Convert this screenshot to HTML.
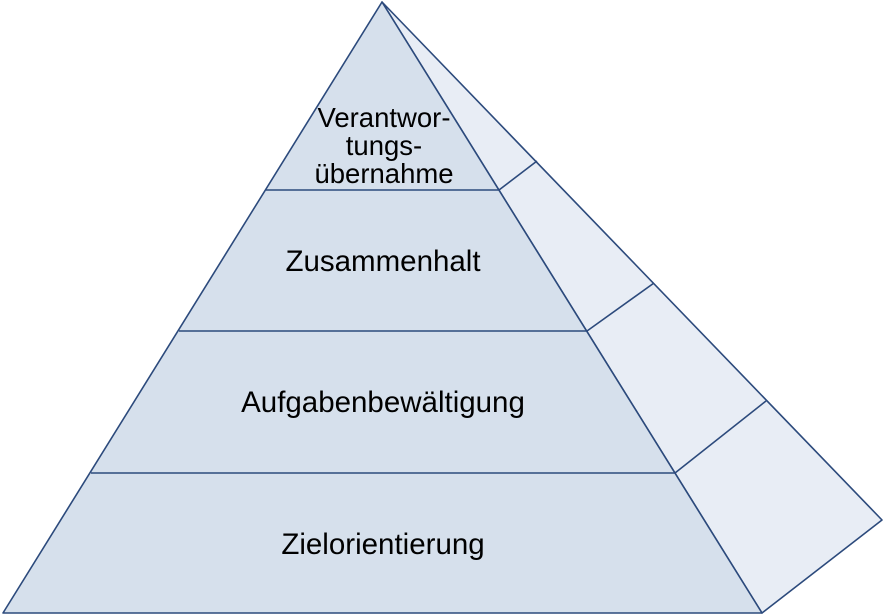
<!DOCTYPE html>
<html><head><style>body{margin:0;background:#fff}svg{display:block}</style></head><body>
<svg width="884" height="616" viewBox="0 0 884 616" xmlns="http://www.w3.org/2000/svg">
<g stroke="#2c4a7c" stroke-width="1.6" stroke-linejoin="round">
<polygon points="382,2 882,520 762,613" fill="#e8edf5"/>
<polygon points="382,2 3,613 762,613" fill="#d6e0ec"/>
<line x1="266" y1="190" x2="499" y2="190"/>
<line x1="179" y1="331" x2="587" y2="331"/>
<line x1="91" y1="473" x2="675" y2="473"/>
<line x1="499" y1="190" x2="537" y2="161"/>
<line x1="587" y1="331" x2="654" y2="283"/>
<line x1="675" y1="473" x2="766" y2="401"/>
</g>
<g font-family="Liberation Sans, Arial, sans-serif" font-size="28" fill="#000" text-anchor="middle">
<text x="384" y="127" font-size="27.5">Verantwor-</text>
<text x="384" y="155" font-size="27.5">tungs-</text>
<text x="384" y="183" font-size="27.5">übernahme</text>
<text x="383" y="271" font-size="29.5">Zusammenhalt</text>
<text x="383" y="412" font-size="29.5">Aufgabenbewältigung</text>
<text x="383" y="554" font-size="29.5">Zielorientierung</text>
</g>
</svg>
</body></html>
